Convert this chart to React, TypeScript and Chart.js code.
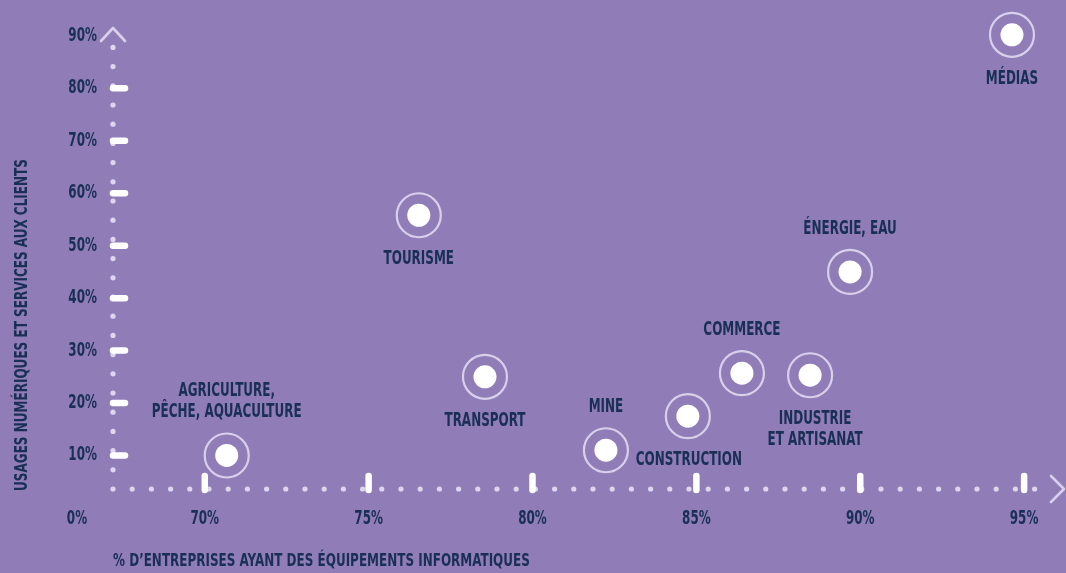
import React, { useEffect, useRef } from "react";
import { Chart, registerables } from "chart.js";

Chart.register(...registerables);

// ---- data ----
const sectors = [
  "AGRICULTURE,\nPÊCHE, AQUACULTURE",
  "TOURISME",
  "TRANSPORT",
  "MINE",
  "CONSTRUCTION",
  "COMMERCE",
  "INDUSTRIE\nET ARTISANAT",
  "ÉNERGIE, EAU",
  "MÉDIAS",
];
const equipmentPct = [70.67, 76.53, 78.55, 82.24, 84.74, 86.39, 88.47, 89.69, 94.63];
const digitalUsagePct = [10.0, 55.8, 25.0, 11.0, 17.5, 25.7, 25.3, 45.0, 90.2];
const xTickValues = [70, 75, 80, 85, 90, 95];
const yTickValues = [10, 20, 30, 40, 50, 60, 70, 80, 90];
const originLabel = "0%";
const xTitle = "% D’ENTREPRISES AYANT DES ÉQUIPEMENTS INFORMATIQUES";
const yTitle = "USAGES NUMÉRIQUES ET SERVICES AUX CLIENTS";

// ---- styles ----
const labelPlacement = ["above", "below", "below", "above", "below", "above", "below", "above", "below"];
const labelDx = [0, 0, 0, 0, 1, 0, 5, 0, 0];
const BG = "#907db8";
const NAVY = "#192f55";
const LAV = "#d8d0ea";
const DOT = "#ddd6ee";
const FONT = "'DejaVu Sans Condensed', 'DejaVu Sans', sans-serif";

function squeezeText(ctx: any, text: string, x: number, y: number, align: string, sx: number) {
  ctx.save();
  ctx.translate(x, y);
  ctx.scale(sx, 1);
  ctx.textAlign = align;
  ctx.fillText(text, 0, 0);
  ctx.restore();
}

const decor = {
  id: "decor",
  beforeDatasetsDraw(chart: any) {
    const { ctx, chartArea, scales } = chart;
    const xs = scales.x;
    const ys = scales.y;
    const ox = chartArea.left;
    const oy = chartArea.bottom;
    ctx.save();
    // dotted axes
    ctx.fillStyle = DOT;
    const step = 19.2;
    for (let x = ox; x <= chartArea.right - 4; x += step) {
      ctx.beginPath();
      ctx.arc(x, oy, 2.6, 0, Math.PI * 2);
      ctx.fill();
    }
    for (let y = oy - step; y >= chartArea.top + 18; y -= step) {
      ctx.beginPath();
      ctx.arc(ox, y, 2.6, 0, Math.PI * 2);
      ctx.fill();
    }
    // arrows
    ctx.strokeStyle = LAV;
    ctx.lineWidth = 2.6;
    ctx.lineCap = "round";
    ctx.lineJoin = "round";
    ctx.beginPath();
    ctx.moveTo(ox - 12, chartArea.top + 13);
    ctx.lineTo(ox, chartArea.top);
    ctx.lineTo(ox + 12, chartArea.top + 13);
    ctx.stroke();
    const ax = chartArea.right + 14;
    ctx.beginPath();
    ctx.moveTo(ax - 13, oy - 13);
    ctx.lineTo(ax, oy);
    ctx.lineTo(ax - 13, oy + 13);
    ctx.stroke();
    // tick bars
    ctx.strokeStyle = "#ffffff";
    ctx.lineWidth = 6.5;
    for (const v of xTickValues) {
      const px = xs.getPixelForValue(v);
      ctx.beginPath();
      ctx.moveTo(px, oy - 13);
      ctx.lineTo(px, oy + 1);
      ctx.stroke();
    }
    for (const v of yTickValues.slice(0, -1)) {
      const py = ys.getPixelForValue(v);
      ctx.beginPath();
      ctx.moveTo(ox, py);
      ctx.lineTo(ox + 12, py);
      ctx.stroke();
    }
    // tick labels
    ctx.fillStyle = NAVY;
    ctx.font = `bold 19px ${FONT}`;
    ctx.textBaseline = "middle";
    for (const v of yTickValues) {
      squeezeText(ctx, `${v}%`, ox - 16, ys.getPixelForValue(v), "right", 0.7);
    }
    for (const v of xTickValues) {
      squeezeText(ctx, `${v}%`, xs.getPixelForValue(v), oy + 30, "center", 0.7);
    }
    squeezeText(ctx, originLabel, ox - 36, oy + 30, "center", 0.7);
    // axis titles
    ctx.font = `bold 18px ${FONT}`;
    squeezeText(ctx, xTitle, ox, oy + 72, "left", 0.74);
    ctx.save();
    ctx.translate(22, 325);
    ctx.rotate(-Math.PI / 2);
    squeezeText(ctx, yTitle, 0, 0, "center", 0.742);
    ctx.restore();
    ctx.restore();
  },
  afterDatasetsDraw(chart: any) {
    const { ctx, scales } = chart;
    ctx.save();
    ctx.fillStyle = NAVY;
    ctx.font = `bold 19px ${FONT}`;
    ctx.textBaseline = "middle";
    sectors.forEach((name, i) => {
      const px = scales.x.getPixelForValue(equipmentPct[i]) + labelDx[i];
      const py = scales.y.getPixelForValue(digitalUsagePct[i]);
      const lines = name.split("\n");
      const lh = 21;
      if (labelPlacement[i] === "above") {
        lines.forEach((l, k) => {
          squeezeText(ctx, l, px, py - 43 - (lines.length - 1 - k) * lh, "center", 0.7);
        });
      } else {
        lines.forEach((l, k) => {
          squeezeText(ctx, l, px, py + 44 + k * lh, "center", 0.7);
        });
      }
    });
    ctx.restore();
  },
};

export default function App() {
  const ref = useRef<HTMLCanvasElement | null>(null);
  useEffect(() => {
    document.body.style.margin = "0";
    document.body.style.background = BG;
    const pts = equipmentPct.map((x, i) => ({ x, y: digitalUsagePct[i] }));
    const chart = new Chart(ref.current as HTMLCanvasElement, {
      type: "scatter",
      data: {
        datasets: [
          {
            data: pts,
            pointRadius: 22,
            pointHoverRadius: 22,
            backgroundColor: "rgba(0,0,0,0)",
            borderColor: LAV,
            borderWidth: 2.2,
            clip: false,
          },
          {
            data: pts,
            pointRadius: 11.5,
            pointHoverRadius: 11.5,
            backgroundColor: "#ffffff",
            borderWidth: 0,
            clip: false,
          },
        ],
      },
      options: {
        responsive: false,
        animation: false,
        events: [],
        layout: { autoPadding: false, padding: { left: 113, right: 16, top: 28, bottom: 84 } },
        plugins: { legend: { display: false }, tooltip: { enabled: false } },
        scales: {
          x: { type: "linear", min: 67.2, max: 95.79, display: false },
          y: { type: "linear", min: 3.61, max: 91.5, display: false },
        },
      },
      plugins: [decor],
    });
    return () => chart.destroy();
  }, []);
  return (
    <div style={{ position: "absolute", left: 0, top: 0, width: 1066, height: 573, background: BG }}>
      <canvas ref={ref} width={1066} height={573} style={{ display: "block" }} />
    </div>
  );
}
